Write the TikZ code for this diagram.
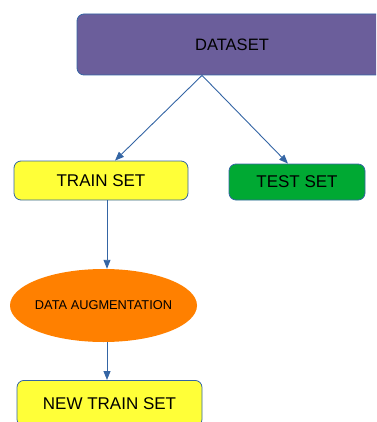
\documentclass[tikz,border=0pt]{standalone}
\usepackage{fontspec}
\setmainfont{Liberation Sans}
\usetikzlibrary{shapes.geometric,arrows.meta}
\definecolor{edgeblue}{HTML}{3465A4}
\definecolor{dpurple}{HTML}{6B5E9B}
\definecolor{dyellow}{HTML}{FFFF38}
\definecolor{dgreen}{HTML}{00A933}
\definecolor{dorange}{HTML}{FF8000}
\tikzset{
  box/.style={draw=edgeblue, line width=0.8pt, rounded corners=7pt, inner sep=0pt, text=black},
  conn/.style={draw=edgeblue, line width=0.9pt, -{Triangle[width=7pt,length=9pt]}},
}
\begin{document}
\begin{tikzpicture}[x=1pt,y=-1pt]
\useasboundingbox (0,0) rectangle (376,422);
\clip (0,0) rectangle (376,422);
\node[box, fill=dpurple, minimum width=330pt, minimum height=61pt, font=\fontsize{16.5}{18}\selectfont] (ds) at (242,44.5) {\hspace*{-20pt}DATASET};
\node[box, fill=dyellow, minimum width=174pt, minimum height=39pt, font=\fontsize{17}{19}\selectfont] (train) at (101,180.5) {TRAIN SET};
\node[box, fill=dgreen, minimum width=136pt, minimum height=36pt, font=\fontsize{17}{19}\selectfont] (test) at (297,182) {TEST SET};
\node[ellipse, draw=none, fill=dorange, inner sep=0pt, minimum width=187pt, minimum height=73pt, font=\fontsize{12.8}{14}\selectfont, text=black] (aug) at (103.5,305.5) {\makebox[0pt]{DATA AUGMENTATION}};
\node[box, fill=dyellow, minimum width=185pt, minimum height=46pt, anchor=north, font=\fontsize{17}{19}\selectfont] (newtrain) at (109.5,380) {NEW TRAIN SET};
\draw[conn] ([xshift=-40pt]ds.south) -- ([xshift=14pt]train.north);
\draw[conn] ([xshift=-40pt]ds.south) -- ([xshift=-9pt]test.north);
\draw[conn] ([xshift=6pt]train.south) -- ([xshift=3.5pt]aug.north);
\draw[conn] ([xshift=3.5pt]aug.south) -- ([xshift=-2.5pt]newtrain.north);
\end{tikzpicture}
\end{document}
